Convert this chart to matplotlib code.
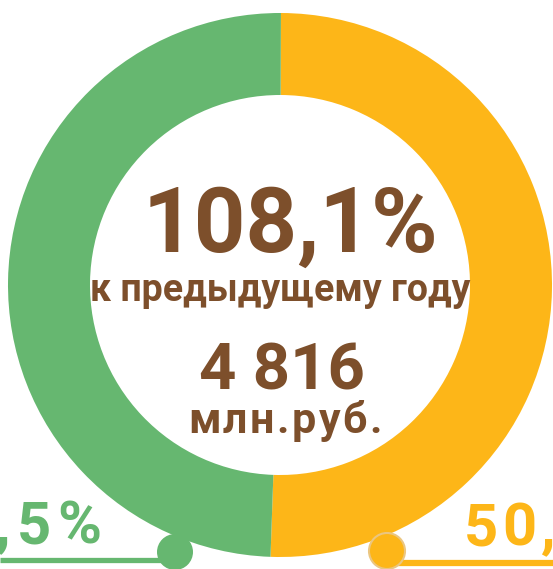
import matplotlib
matplotlib.use("Agg")
import matplotlib.pyplot as plt
from matplotlib.patches import Circle
from matplotlib.font_manager import FontProperties, findfont
from matplotlib.ft2font import FT2Font

# data
shares = [50.5, 49.5]            # orange, green
share_labels = ["50,5%", "49,5%"]
colors = ["#FDB618", "#66B770"]
growth_text = "108,1%"
growth_note = "к предыдущему году"
total_text = "4 816"
total_unit = "млн.руб."

brown = "#7D4F2B"
W, H = 553, 569

fig = plt.figure(figsize=(W / 100, H / 100), dpi=100)
ax = fig.add_axes([0, 0, 1, 1])

def Y(y):
    # pixel row (from top) -> data y
    return H - y

def tracked(x, y, s, size, track, ha="left", weight="medium", **kw):
    # draw a string char by char with extra letter spacing (pixels)
    font = FT2Font(findfont(FontProperties(family="Roboto", weight=weight)))
    font.set_size(size, 100)
    advs = [font.load_char(ord(c)).linearHoriAdvance / 65536 for c in s]
    total = sum(advs) + track * (len(s) - 1)
    if ha == "right":
        x -= total
    elif ha == "center":
        x -= total / 2
    for c, a in zip(s, advs):
        if c != " ":
            ax.text(x, y, c, ha="left", va="baseline", fontsize=size,
                    fontweight=weight, family="Roboto", **kw)
        x += a + track

cx, cy, r_out, ring = 280, 285, 272, 82
ax.pie(shares, colors=colors, startangle=89.8, counterclock=False,
       center=(cx, Y(cy)), radius=r_out,
       wedgeprops=dict(width=ring, linewidth=0))
ax.set_xlim(0, W)
ax.set_ylim(0, H)
ax.set_aspect("equal")
ax.axis("off")

# centre texts
ax.text(290, Y(252), growth_text, ha="center", va="baseline",
        fontsize=65, fontweight="bold", family="Roboto", color=brown)
ax.text(280, Y(301), growth_note, ha="center", va="baseline",
        fontsize=27, fontweight="bold", family="Roboto", color=brown)
ax.text(282, Y(390), total_text, ha="center", va="baseline",
        fontsize=47, fontweight="bold", family="Roboto", color=brown)
tracked(285, Y(433), total_unit, 31, 2.5, ha="center", weight="bold",
        color=brown)

# bottom callouts
ax.plot([0, 175], [Y(560), Y(560)], color=colors[1], lw=3.8,
        solid_capstyle="butt", zorder=3)
ax.plot([387, W], [Y(563), Y(563)], color=colors[0], lw=4.5,
        solid_capstyle="butt", zorder=3)
ax.add_patch(Circle((175, Y(552)), 18, facecolor=colors[1],
                    edgecolor="none", zorder=4))
ax.add_patch(Circle((387, Y(551)), 18, facecolor=colors[0],
                    edgecolor="#EBC681", lw=1.5, zorder=4))

tracked(101, Y(543), share_labels[1], 43, 6, ha="right", weight="bold",
        color=colors[1])
tracked(464, Y(545), share_labels[0], 43, 4, ha="left", weight="bold",
        color=colors[0])

fig.savefig("out.png", dpi=100)
